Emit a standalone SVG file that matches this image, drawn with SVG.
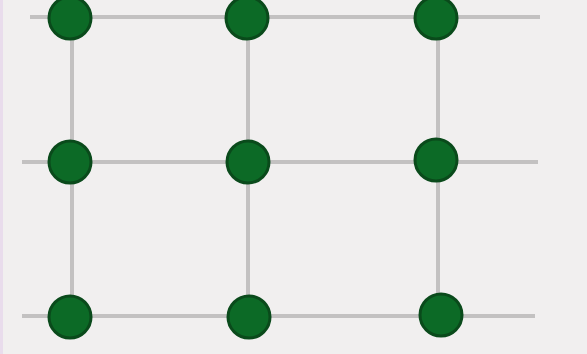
<svg xmlns="http://www.w3.org/2000/svg" width="587" height="354" viewBox="0 0 587 354">
<style>
.bg{fill:#f1efef}
.ln{stroke:#c3c1c1;stroke-width:4;fill:none;stroke-linecap:butt}
.dot{fill:#0c6a26;stroke:#0a4a1b;stroke-width:3}
</style>
<rect class="bg" x="0" y="0" width="587" height="354"/>
<rect x="0" y="0" width="3" height="354" fill="#e9dcec"/>
<g id="connectors">
<line class="ln" x1="30" y1="17" x2="540" y2="17"/>
<line class="ln" x1="22" y1="162" x2="538" y2="162"/>
<line class="ln" x1="22" y1="316" x2="535" y2="316"/>
<line class="ln" x1="72" y1="17" x2="72" y2="316"/>
<line class="ln" x1="248" y1="17" x2="248" y2="316"/>
<line class="ln" x1="438" y1="17" x2="438" y2="316"/>
</g>
<g id="n1"><circle class="dot" cx="70" cy="18" r="21"/></g>
<g id="n2"><circle class="dot" cx="247" cy="18" r="21"/></g>
<g id="n3"><circle class="dot" cx="436" cy="18" r="21"/></g>
<g id="n4"><circle class="dot" cx="70" cy="162" r="21"/></g>
<g id="n5"><circle class="dot" cx="248" cy="162" r="21"/></g>
<g id="n6"><circle class="dot" cx="436" cy="160" r="21"/></g>
<g id="n7"><circle class="dot" cx="70" cy="317" r="21"/></g>
<g id="n8"><circle class="dot" cx="249" cy="317" r="21"/></g>
<g id="n9"><circle class="dot" cx="441" cy="315" r="21"/></g>
</svg>
